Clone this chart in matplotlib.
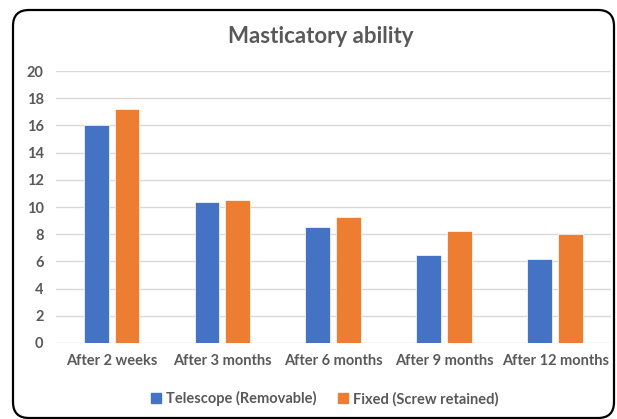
import matplotlib.pyplot as plt
import matplotlib.patches as mpatches
from matplotlib.transforms import IdentityTransform
import numpy as np

plt.rcParams['font.family'] = ['Lato', 'DejaVu Sans']

categories = ['After 2 weeks', 'After 3 months', 'After 6 months', 'After 9 months', 'After 12 months']
telescope = [16.0, 10.35, 8.5, 6.45, 6.2]
fixed = [17.2, 10.5, 9.25, 8.25, 8.0]
series_names = ['Telescope (Removable)', 'Fixed (Screw retained)']
yticks = [0, 2, 4, 6, 8, 10, 12, 14, 16, 18, 20]

blue = '#4472C4'
orange = '#ED7D31'
text_gray = '#595959'

fig = plt.figure(figsize=(6.17, 4.19), dpi=100)
ax = fig.add_axes([0.0908, 0.1814, 0.8992, 0.6491])

x = np.arange(len(categories))
w = 0.225
off = w / 2 + 0.027
ax.bar(x - off, telescope, w, color=blue, edgecolor='white', linewidth=0.5, zorder=3)
ax.bar(x + off, fixed, w, color=orange, edgecolor='white', linewidth=0.5, zorder=3)

ax.set_xlim(-0.5, len(categories) - 0.5)
ax.set_ylim(0, 20)
ax.set_yticks(yticks)
ax.set_xticks(x)
ax.set_xticklabels(categories)
ax.grid(axis='y', color='#D9D9D9', linewidth=1, zorder=0)
for s in ax.spines.values():
    s.set_visible(False)
ax.tick_params(length=0, colors=text_gray, labelsize=10.5)
ax.tick_params(axis='y', pad=9)
ax.tick_params(axis='x', pad=8)
for lbl in ax.get_xticklabels() + ax.get_yticklabels():
    lbl.set_fontweight('bold')

fig.text(0.52, 0.912, 'Masticatory ability', ha='center', va='center',
         fontsize=16, fontweight='bold', color=text_gray)

handles = [mpatches.Patch(color=blue, label=series_names[0]),
           mpatches.Patch(color=orange, label=series_names[1])]
leg = fig.legend(handles=handles, loc='center', bbox_to_anchor=(0.526, 0.048), ncol=2,
                 frameon=False, fontsize=10.5, handlelength=0.7, handleheight=0.7,
                 handletextpad=0.3, columnspacing=1.5)
for t in leg.get_texts():
    t.set_color(text_gray)
    t.set_fontweight('bold')

frame = mpatches.FancyBboxPatch((13, 1), 601, 408,
                                boxstyle='round,pad=0,rounding_size=16',
                                transform=IdentityTransform(), fill=False,
                                edgecolor='black', linewidth=1.6)
fig.patches.append(frame)

fig.savefig('out.png', dpi=100)
